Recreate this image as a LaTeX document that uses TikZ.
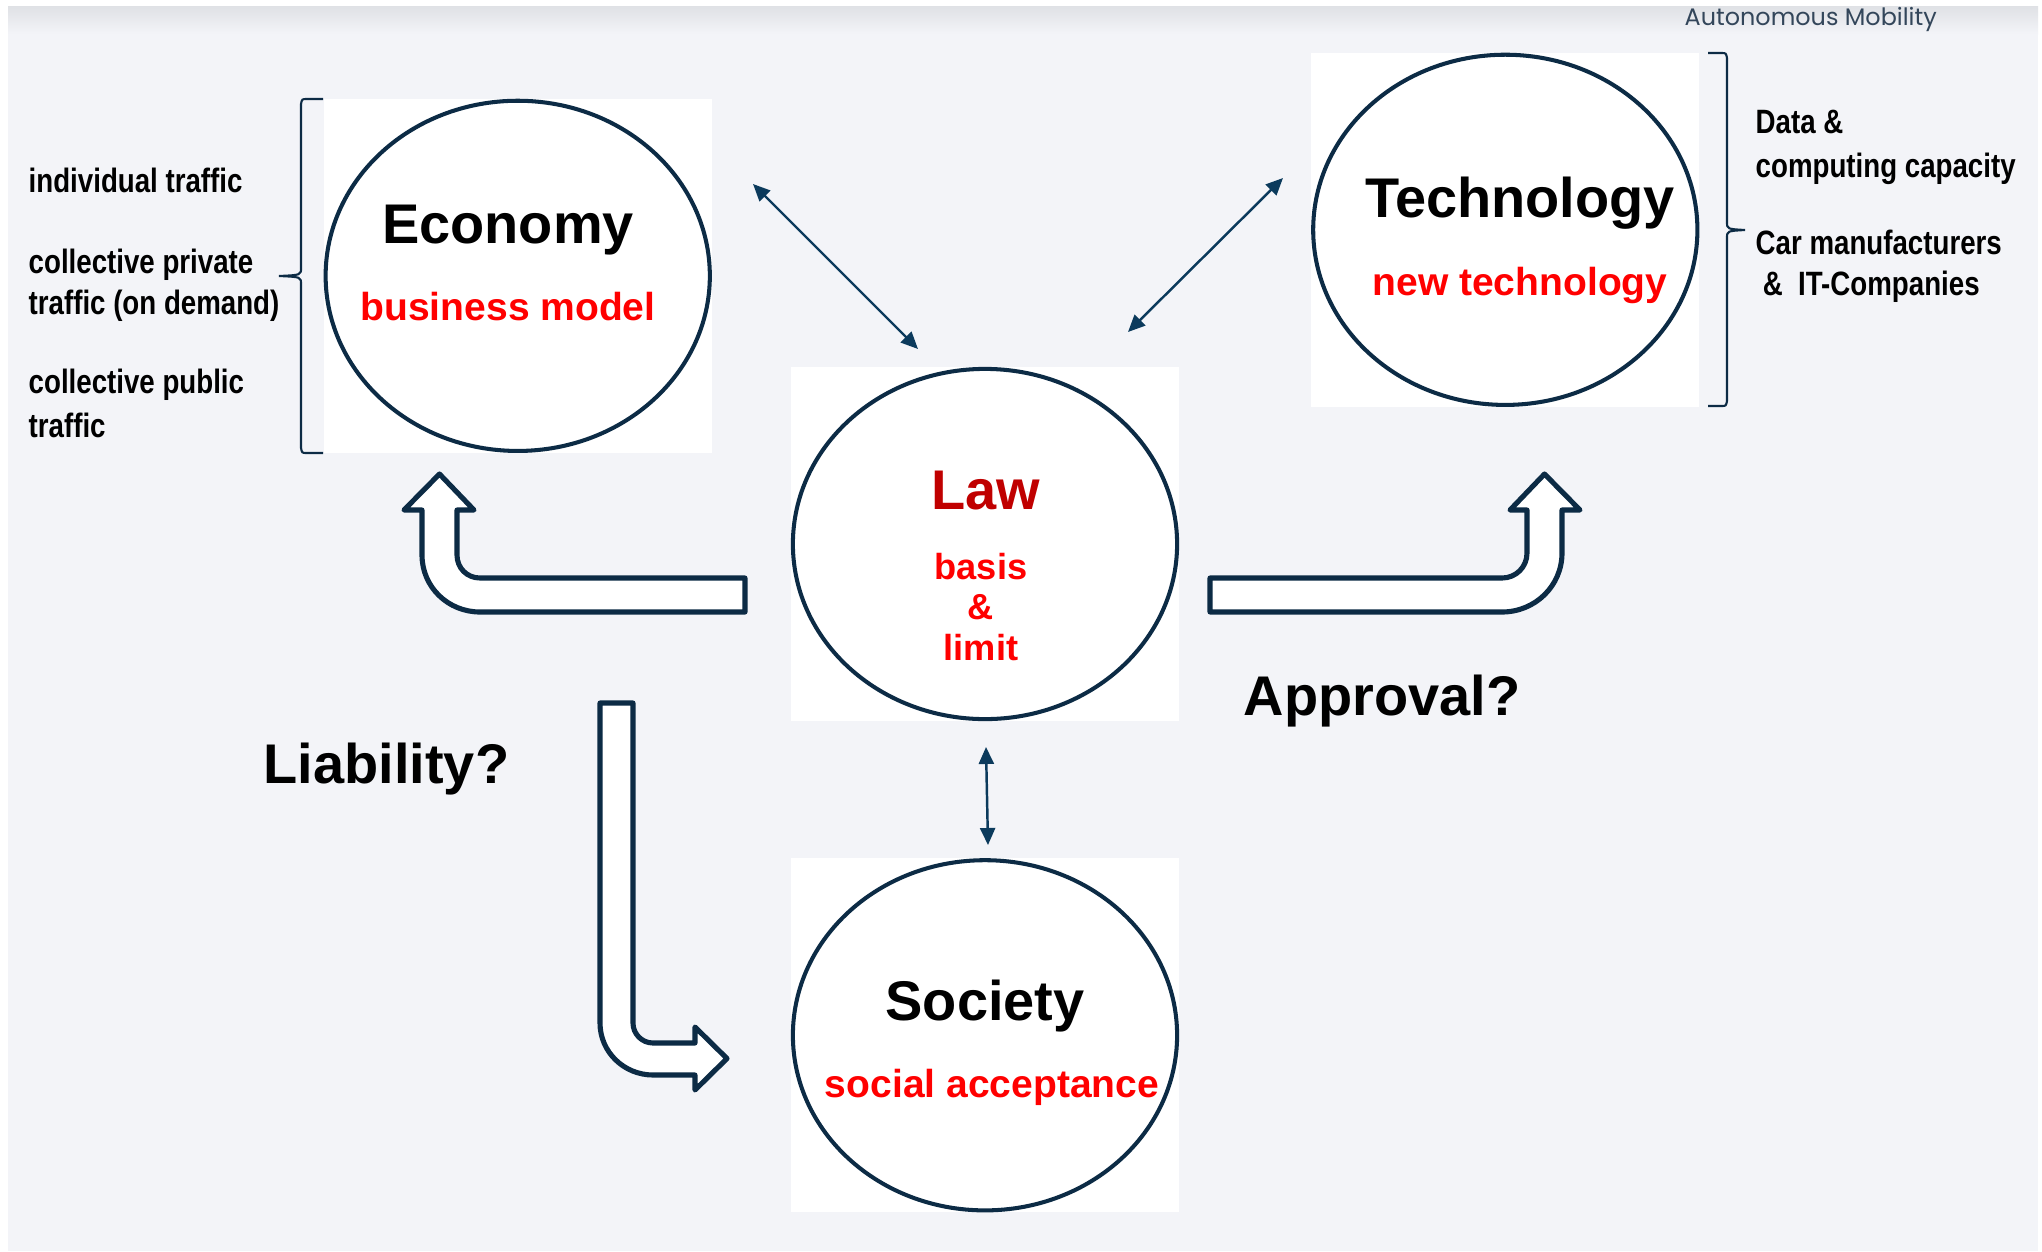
\documentclass[tikz,border=0pt]{standalone}
\usepackage{fontspec}
\setmainfont{Liberation Sans}
\newfontfamily\narrowfont[FakeStretch=0.82]{Liberation Sans}
\newfontfamily\brandfont{Poppins}
\usetikzlibrary{arrows.meta, positioning, shapes.geometric, backgrounds}
\definecolor{navy}{HTML}{0C2B45}
\definecolor{linknavy}{HTML}{0B3A5C}
\definecolor{pagegray}{HTML}{F3F4F8}
\definecolor{shadegray}{HTML}{DFE1E5}
\definecolor{lawred}{HTML}{C00000}
\definecolor{brandgray}{HTML}{33465A}

\tikzset{
  field/.style={ellipse, draw=navy, line width=1.15pt, minimum width=3.84cm, minimum height=3.5cm, inner sep=0pt},
  fieldtitle/.style={font=\bfseries\fontsize{15.9}{19}\selectfont, anchor=base, inner sep=0pt},
  fieldsub/.style={font=\bfseries\fontsize{11.1}{13.3}\selectfont, text=red, anchor=base, inner sep=0pt},
  sidenote/.style={font=\narrowfont\bfseries\fontsize{9.6}{11.4}\selectfont, align=left, anchor=base west, inner sep=0pt},
  question/.style={font=\bfseries\fontsize{15.9}{19}\selectfont, anchor=base west, inner sep=0pt},
  link/.style={<->, >={Triangle[length=0.17cm, width=0.15cm]}, line width=0.7pt, draw=linknavy},
  bigarrow/.style={draw=navy, fill=white, line width=1.45pt, line join=round},
  bracket/.style={draw=navy, line width=0.6pt}
}

\begin{document}
\begin{tikzpicture}[x=0.01cm, y=-0.01cm]
    \useasboundingbox (0,0) rectangle (2042,1251);

    % Fields
    \node (law) [field] at (985,544) {};
    \node (econ) [field, node distance=2.68cm, above of=law, xshift=-4.67cm] {};
    \node (tech) [field, node distance=3.14cm, above of=law, xshift=5.2cm] {};
    \node (soc) [field, node distance=4.91cm, below of=law] {};

    % Titles and subtitles (multi-line nodes sit on their last baseline)
    \node (econtitle) [fieldtitle] at (508,243) {Economy};
    \node (econsub) [fieldsub] at (508,320) {business model};
    \node (techtitle) [fieldtitle] at (1520,217) {Technology};
    \node (techsub) [fieldsub] at (1520,295) {new technology};
    \node (lawtitle) [fieldtitle, text=lawred] at (986,509) {Law};
    \node (lawsub) [fieldsub, align=center, font=\bfseries\fontsize{10.3}{11.4}\selectfont] at (981,660) {basis\\\&\\limit};
    \node (soctitle) [fieldtitle] at (985,1020) {Society};
    \node (socsub) [fieldsub] at (992,1097) {social acceptance};

    % Side notes
    \node (brand) [anchor=base west, inner sep=0pt, text=brandgray, font=\brandfont\fontsize{6.8}{8}\selectfont] at (1684,25) {Autonomous Mobility};
    \node (traffic1) [sidenote] at (28,192) {individual traffic};
    \node (traffic2) [sidenote] at (28,314) {collective private\\traffic (on demand)};
    \node (traffic3) [sidenote] at (28,437) {collective public\\[1.1pt]traffic};
    \node (techdata) [sidenote] at (1755,177) {Data \&\\[1.1pt]computing capacity};
    \node (techfirms) [sidenote] at (1755,295) {Car manufacturers\\\hspace{2pt}\& \ IT-Companies};
    \node (liability) [question] at (263,783) {Liability?};
    \node (approval) [question] at (1243,715) {Approval?};

    % Brackets
    \draw[bracket] (323,99) -- (307,99) .. controls (302,99) .. (301,104) -- (301,268)
        .. controls (301,275) .. (279,276) .. controls (301,277) .. (301,284)
        -- (301,448) .. controls (302,453) .. (307,453) -- (323,453);
    \draw[bracket] (1708,53) -- (1721,53) .. controls (1726,53) .. (1727,58) -- (1727,222)
        .. controls (1727,229) .. (1745,230) .. controls (1727,231) .. (1727,238)
        -- (1727,401) .. controls (1726,406) .. (1721,406) -- (1708,406);

    % Links
    \coordinate (econlinkA) at (753,184);
    \coordinate (econlinkB) at (918,349);
    \coordinate (techlinkA) at (1283,178);
    \coordinate (techlinkB) at (1128,332);
    \coordinate (soclinkA) at (986,747);
    \coordinate (soclinkB) at (988,845);
    \draw[link] (econlinkA) -- (econlinkB);
    \draw[link] (techlinkA) -- (techlinkB);
    \draw[link] (soclinkA) -- (soclinkB);

    % Block arrows
    \draw[bigarrow] (745,578) -- (480,578) .. controls (467,578) and (457,568) .. (457,555)
        -- (457,510) -- (474,510) -- (439.5,474) -- (404,510) -- (422,510) -- (422,555)
        .. controls (422,587) and (448,612) .. (480,612) -- (745,612) -- cycle;
    \draw[bigarrow] (1210,578) -- (1502,578) .. controls (1516,578) and (1527,567) .. (1527,553)
        -- (1527,510) -- (1510,510) -- (1544.5,474) -- (1580,510) -- (1562,510) -- (1562,553)
        .. controls (1562,586) and (1535,612) .. (1502,612) -- (1210,612) -- cycle;
    \draw[bigarrow] (600,703) -- (633,703) -- (633,1023) .. controls (633,1034) and (642,1043) .. (653,1043)
        -- (695,1043) -- (695,1027) -- (727,1058.5) -- (695,1090) -- (695,1075) -- (653,1075)
        .. controls (624,1075) and (600,1052) .. (600,1023) -- cycle;

    % Page and field backgrounds
    \begin{scope}[on background layer]
        \fill[white] (0,0) rectangle (2042,1251);
        \fill[pagegray] (8,6) rectangle (2038,1251);
        \shade[top color=shadegray, bottom color=pagegray] (8,6) rectangle (2038,34);
        \fill[white] (econ.west |- econ.north) rectangle (econ.east |- econ.south);
        \fill[white] (tech.west |- tech.north) rectangle (tech.east |- tech.south);
        \fill[white] (law.west |- law.north) rectangle (law.east |- law.south);
        \fill[white] (soc.west |- soc.north) rectangle (soc.east |- soc.south);
    \end{scope}
\end{tikzpicture}
\end{document}
